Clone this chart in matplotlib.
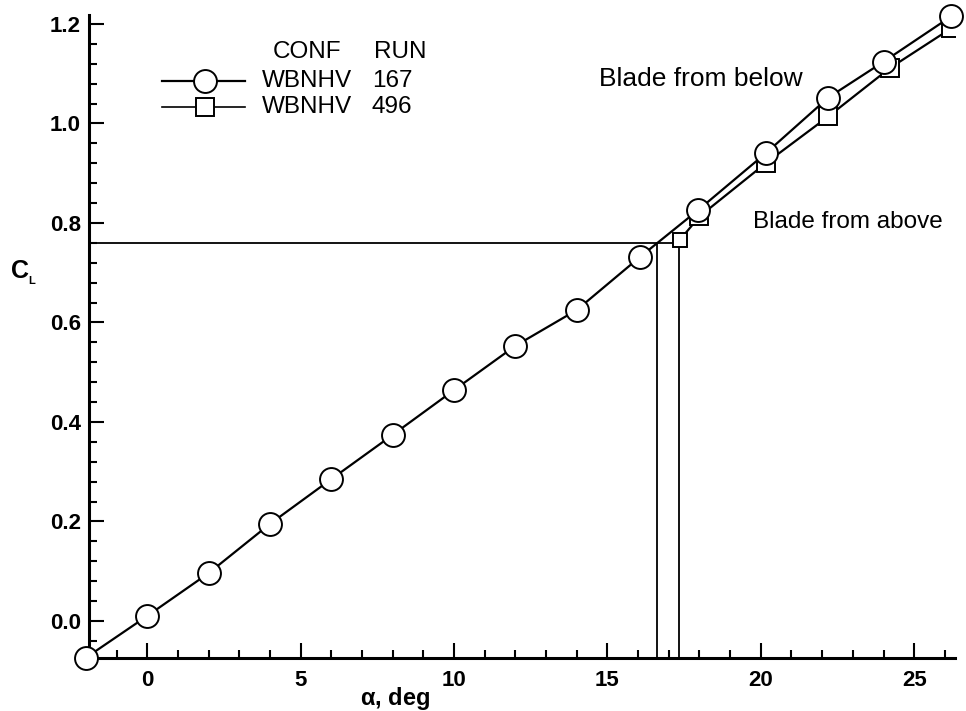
import matplotlib
matplotlib.use("Agg")
import matplotlib.pyplot as plt
from matplotlib.ticker import MultipleLocator
from matplotlib.lines import Line2D

plt.rcParams['font.family'] = ['Liberation Sans', 'DejaVu Sans']

# Data (run 167, circles)
alpha_167 = [-2.0, 0.0, 2.0, 4.0, 6.0, 8.0, 10.0, 12.0, 14.0, 16.07, 17.96, 20.16, 22.2, 24.0, 26.2]
cl_167 = [-0.074, 0.010, 0.096, 0.195, 0.285, 0.374, 0.464, 0.553, 0.625, 0.732, 0.826, 0.940, 1.052, 1.124, 1.215]
# Data (run 496, squares)
alpha_496 = [17.35, 18.0, 20.16, 22.2, 24.2, 26.2]
cl_496 = [0.765, 0.813, 0.920, 1.014, 1.111, 1.191]

# Reference lines
cl_ref = 0.760
alpha_below = 16.61
alpha_above = 17.34

xlim = (-1.9, 26.33)
ylim = (-0.074, 1.218)

fig = plt.figure(figsize=(9.66, 7.11), dpi=100)
ax = fig.add_axes([89/966, 1 - 657.7/711, (955-89)/966, (657.7-15)/711])
ax.set_xlim(*xlim)
ax.set_ylim(*ylim)

lw = 1.6
# reference lines
ax.plot([xlim[0], alpha_above], [cl_ref, cl_ref], color='black', lw=1.3)
ax.plot([alpha_below, alpha_below], [ylim[0], cl_ref], color='black', lw=1.3)
ax.plot([alpha_above, alpha_above], [ylim[0], cl_ref], color='black', lw=1.3)

ax.plot(alpha_496, cl_496, color='black', lw=lw, zorder=3)
ax.plot(alpha_496[1:], cl_496[1:], ls='none', marker='s', ms=13, mfc='white', mec='black', mew=1.4, zorder=4)
ax.plot(alpha_496[:1], cl_496[:1], ls='none', marker='s', ms=9.5, mfc='white', mec='black', mew=1.4, zorder=4)
ax.plot(alpha_167, cl_167, color='black', lw=lw, marker='o', ms=16.5, mfc='white', mec='black', mew=1.4,
        zorder=5, clip_on=False)

for s in ['top', 'right']:
    ax.spines[s].set_visible(False)
for s in ['left', 'bottom']:
    ax.spines[s].set_linewidth(2.2)

ax.xaxis.set_major_locator(MultipleLocator(5))
ax.xaxis.set_minor_locator(MultipleLocator(1))
ax.yaxis.set_major_locator(MultipleLocator(0.2))
ax.yaxis.set_minor_locator(MultipleLocator(0.04))
ax.tick_params(which='both', direction='in', width=1.5, colors='black')
ax.tick_params(which='major', length=11, pad=9)
ax.tick_params(which='minor', length=6)
ax.tick_params(axis='x', which='major', labelsize=16)
ax.tick_params(axis='y', which='major', pad=6, labelsize=16)
ax.set_yticks([0.0, 0.2, 0.4, 0.6, 0.8, 1.0, 1.2])
ax.set_yticklabels(['0.0', '0.2', '0.4', '0.6', '0.8', '1.0', '1.2'])
for lab in ax.get_xticklabels() + ax.get_yticklabels():
    lab.set_fontweight('bold')

# axis labels
fig.text(395/966, 1 - 698/711, r'$\mathregular{\alpha}$, deg', ha='center', va='center', fontsize=17, fontweight='bold')
fig.text(20/966, 1 - 271/711, 'C', ha='center', va='center', fontsize=18, fontweight='bold')
fig.text(32/966, 1 - 281/711, 'L', ha='center', va='center', fontsize=8, fontweight='bold')

# legend (custom)
fs_leg = 17.5
fig.text(273/966, 1 - 52/711, 'CONF', ha='left', va='center', fontsize=fs_leg)
fig.text(374/966, 1 - 52/711, 'RUN', ha='left', va='center', fontsize=fs_leg)
fig.text(262/966, 1 - 81/711, 'WBNHV', ha='left', va='center', fontsize=fs_leg)
fig.text(372/966, 1 - 81/711, '167', ha='left', va='center', fontsize=fs_leg)
fig.text(262/966, 1 - 107/711, 'WBNHV', ha='left', va='center', fontsize=fs_leg)
fig.text(372/966, 1 - 107/711, '496', ha='left', va='center', fontsize=fs_leg)
fig.add_artist(Line2D([162/966, 245/966], [1 - 81/711, 1 - 81/711], color='black', lw=lw))
fig.add_artist(Line2D([205/966], [1 - 81/711], marker='o', ms=16.5, mfc='white', mec='black', mew=1.4))
fig.add_artist(Line2D([162/966, 245/966], [1 - 107/711, 1 - 107/711], color='black', lw=1.2))
fig.add_artist(Line2D([205/966], [1 - 107/711], marker='s', ms=13, mfc='white', mec='black', mew=1.4))

# annotations
fig.text(701/966, 1 - 79/711, 'Blade from below', ha='center', va='center', fontsize=19)
fig.text(848/966, 1 - 222/711, 'Blade from above', ha='center', va='center', fontsize=17.5)

fig.savefig('out.png', dpi=100)
